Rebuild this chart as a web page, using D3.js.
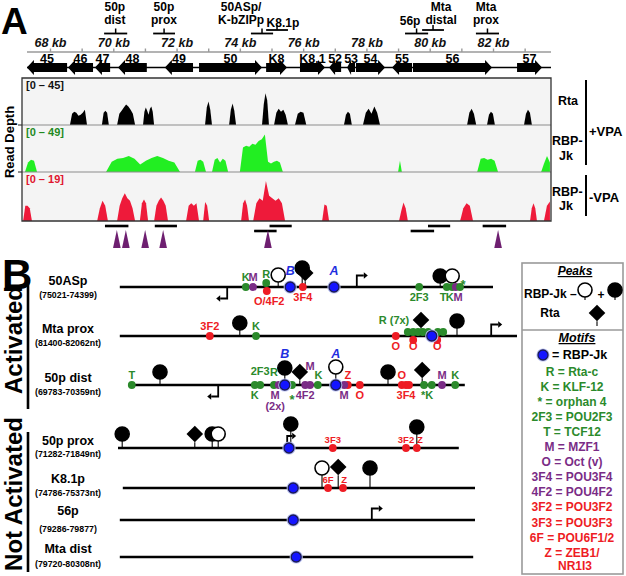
<!DOCTYPE html>
<html><head><meta charset="utf-8">
<script src="https://cdn.jsdelivr.net/npm/d3@7"></script>
<style>
body{margin:0;background:#fff}
svg{display:block;font-family:"Liberation Sans",Arial,Helvetica,sans-serif;font-weight:bold}
</style>
</head><body>
<svg id="c" width="626" height="576"></svg>
<script>
// ================= DATA =================
// Panel A: genome axis (kb)
const axisTicksKb = d3.range(68, 84);
// genes: [name, startKb, endKb, direction]
const genes = [
  ["45",67.27,68.54,-1],["46",68.57,69.36,-1],["47",69.42,69.90,-1],["48",70.15,71.06,-1],
  ["49",71.63,72.52,-1],["50",72.71,74.70,1],["K8",74.83,75.49,1],["K8.1",75.90,76.69,1],
  ["52",76.82,77.20,-1],["53",77.39,77.64,-1],["54",77.67,78.59,1],["55",78.81,79.44,-1],
  ["56",79.47,81.97,1],["57",82.76,83.55,1]
];
// promoter regions (kb) with label lines, label centre kb and bracket tier
const promoterRegions = [
  {lines:["50p","dist"], s:69.71, e:70.44, at:70.05, tier:0},
  {lines:["50p","prox"], s:71.26, e:71.95, at:71.60, tier:0},
  {lines:["50ASp/","K-bZIPp"], s:74.35, e:75.05, at:74.04, tier:0},
  {lines:["K8.1p"], s:74.83, e:75.52, at:75.36, tier:1},
  {lines:["56p"], s:79.22, e:79.95, at:79.38, tier:0},
  {lines:["Mta","distal"], s:79.76, e:80.45, at:80.36, tier:1},
  {lines:["Mta","prox"], s:81.46, e:82.19, at:81.78, tier:0}
];
// tiers of the bars drawn below the tracks (0 upper, 1 lower)
const barTiers = [0,0,1,0,1,0,0];
// purple RBP-Jk peak triangles (kb)
const triangleKb = [70.08,70.36,70.96,71.52,74.78,81.94];

// coverage tracks: peaks as [startKb, endKb, [depth samples]]
const trackNames = ["Rta +VPA","RBP-Jk +VPA","RBP-Jk -VPA"];
const trackMax = [45,49,19];
const rtaPlusVPA = [
  [68.63,69.17,[0,11,13,12,9,10,12,15,0]],
  [69.64,69.86,[0,12,14,12,0]],
  [70.12,70.69,[0,11,14,17,20,18,15,11,0]],
  [70.94,71.29,[0,13,17,14,10,16,18,13,0]],
  [72.90,73.12,[0,17,23,15,0]],
  [73.66,73.88,[0,15,21,14,0]],
  [74.70,74.92,[0,20,31,24,0]],
  [75.08,75.52,[0,12,16,13,15,10,0]],
  [75.74,76.10,[0,11,13,12,0]],
  [77.29,77.54,[0,10,13,11,0]],
  [77.89,78.43,[0,12,16,11,18,12,0]],
  [81.18,81.47,[0,12,16,11,0]],
  [81.81,82.06,[0,10,13,11,0]],
  [82.98,83.23,[0,11,15,12,0]]
];
const rbpPlusVPA = [
  [67.21,67.59,[0,10,13,12,0]],
  [69.77,72.11,[0,11,14,15,17,14,8,12,15,17,15,12,10,0]],
  [72.58,72.93,[0,12,13,11,0]],
  [73.12,73.63,[0,13,15,10,14,12,0]],
  [74.00,74.89,[0,26,28,27,30,29,33,35,40,11]],
  [74.89,75.36,[11,9,11,12,10,0]],
  [79.00,79.12,[0,6,12,6,0]],
  [81.50,82.16,[0,14,15,13,14,12,0]],
  [83.52,83.80,[0,9,17,10]]
];
const rbpMinusVPA = [
  [67.15,67.43,[0,6,6,5,0]],
  [69.49,69.83,[0,5,8,6,0]],
  [70.12,70.69,[0,6,9,11,9,8,5,0]],
  [70.84,71.10,[0,7,8.5,7,0]],
  [71.29,71.73,[0,6,8,9.3,8,6,0]],
  [72.30,72.71,[0,6,7,6,7,0]],
  [72.84,73.03,[0,7.5,6,0]],
  [74.04,74.29,[0,7,8.5,6,0]],
  [74.42,75.43,[0,7,9,8,15.8,10,9,8,9,7,0]],
  [76.60,76.82,[0,6.5,6,0]],
  [79.03,79.31,[0,4,7.3,5,0]],
  [80.96,81.37,[0,5,7,6,0]],
  [83.17,83.39,[0,5,7,5,0]],
  [83.61,83.80,[0,6,7.7]]
];

// Panel B: promoter rows (positions in bp along a common aligned axis)
const rows = [
  {name:"50ASp", sub:"(75021-74399)", span:[3,625], group:0},
  {name:"Mta prox", sub:"(81400-82062nt)", span:[3,665], group:0},
  {name:"50p dist", sub:"(69783-70359nt)", span:[17,578], group:0},
  {name:"50p prox", sub:"(71282-71849nt)", span:[0,568], group:1},
  {name:"K8.1p", sub:"(74786-75373nt)", span:[8,595], group:1},
  {name:"56p", sub:"(79286-79877)", span:[3,595], group:1},
  {name:"Mta dist", sub:"(79720-80308nt)", span:[3,592], group:1}
];
const groups = ["Activated","Not Activated"];
// transcription start sites: [row, bp, direction]
const tss = [[0,182,-1],[0,398,1],[1,622,1],[2,167,-1],[3,282,1],[5,423,1]];
// RBP-Jk motif sites: [row, bp]
const rbpSites = [[0,287],[0,360],[1,523],[2,278],[2,363],[3,285],[4,292],[5,292],[6,297]];
// ChIP peaks: [row, bp, kind, stem]
const peaks = [
  [0,312,"rta",14],[0,307,"plus",19],[0,267,"minus",12],[0,537,"plus",11],[0,557,"minus",11],
  [1,203,"plus",13],[1,505,"rta",16],[1,565,"plus",15],
  [2,70,"plus",13],[2,278,"plus",17],[2,303,"rta",13],[2,363,"minus",18],[2,450,"plus",13],[2,507,"rta",15],
  [3,7,"plus",14],[3,128,"rta",14],[3,157,"plus",14],[3,167,"minus",14],[3,288,"plus",24],[3,498,"plus",21],
  [4,340,"minus",20],[4,367,"rta",21],[4,420,"plus",20]
];
// motif dots: [row, bp, colour, lane]
const motifs = [
  [0,213,"g",0],[0,225,"p",0],[0,248,"r",1],[0,247,"g",-1],[0,308,"r",0],[0,502,"g",0],
  [0,548,"g",0],[0,557,"g",0],[0,563,"p",0],[0,570,"g",0],
  [1,153,"r",0],[1,230,"g",0],[1,463,"r",0],[1,492,"r",1],[1,532,"r",1],
  [1,483,"g",-1],[1,492,"g",-1],[1,500,"g",-1],[1,508,"g",-1],[1,517,"g",-1],[1,533,"g",-1],[1,542,"g",-1],
  [2,23,"g",0],[2,228,"g",0],[2,237,"g",0],[2,260,"g",0],[2,268,"p",0],[2,290,"g",0],[2,312,"p",0],[2,320,"p",0],
  [2,333,"g",0],[2,377,"p",0],[2,383,"r",0],[2,403,"r",0],[2,473,"r",0],[2,480,"r",0],[2,485,"r",0],
  [2,510,"g",0],[2,523,"g",0],[2,540,"p",0],[2,562,"g",0],
  [3,358,"r",0],[3,480,"r",0],[3,498,"r",0],
  [4,350,"r",0],[4,375,"r",0]
];
// motif labels: [row, bp, text, colour, tier]
const motifLabels = [
  [0,213,"K","g","a"],[0,225,"M","p","a"],[0,247,"R","g","a2"],[0,287,"B","b","hi"],[0,360,"A","b","hi"],
  [0,252,"O/4F2","r","b2"],[0,308,"3F4","r","b"],[0,502,"2F3","g","b"],
  [0,542,"T","g","b"],[0,553,"K","g","b"],[0,567,"M","p","b"],[0,575,"*","g","star"],
  [1,153,"3F2","r","a"],[1,230,"K","g","a"],[1,460,"R (7x)","g","hi"],
  [1,463,"O","r","b"],[1,492,"O","r","b"],[1,532,"O","r","b"],
  [2,23,"T","g","a"],[2,237,"2F3","g","a3"],[2,260,"R","g","a2"],[2,278,"B","b","top"],[2,320,"M","p","mid"],
  [2,334,"K","g","a"],[2,363,"A","b","top"],[2,383,"Z","r","a"],[2,473,"O","r","a"],[2,540,"M","p","a"],[2,562,"K","g","a"],
  [2,228,"K","g","b"],[2,262,"M","p","b"],[2,262,"(2x)","p","b3"],[2,290,"*","g","starb"],[2,312,"4F2","p","b"],
  [2,377,"M","p","b"],[2,403,"O","r","b"],[2,480,"3F4","r","b"],[2,515,"*K","g","b"],
  [3,358,"3F3","r","s"],[3,480,"3F2","r","s"],[3,503,"Z","r","s"],
  [4,350,"6F","r","s"],[4,377,"Z","r","s"]
];
// legend motif entries: [code, name, colour]
const legendMotifs = [
  ["R","Rta-c","g"],["K","KLF-12","g"],["*","orphan 4","g"],["2F3","POU2F3","g"],["T","TCF12","g"],
  ["M","MZF1","p"],["O","Oct (v)","p"],["3F4","POU3F4","p"],["4F2","POU4F2","p"],
  ["3F2","POU3F2","r"],["3F3","POU3F3","r"],["6F","POU6F1/2","r"],["Z","ZEB1/|NR1I3","r"]
];

// ================= DRAW =================
const COL = {g:"#2b8a2b", p:"#7a2c86", r:"#ee1c24", b:"#1f2fe0", k:"#000"};
const svg = d3.select("#c");
const txt = (g, x, y, s, o={}) => {
  const t = g.append("text").attr("x",x).attr("y",y).text(s)
    .attr("font-size",o.fs||12).attr("fill",o.fill||"#000").attr("text-anchor",o.anchor||"middle");
  if (o.italic) t.attr("font-style","italic");
  if (o.rot) t.attr("transform",`rotate(-90,${x},${y})`);
  if (o.ul) t.attr("text-decoration","underline");
  return t;
};

// ---------- Panel A ----------
const x = d3.scaleLinear().domain([68,82]).range([50,493]);
const xBar = d3.scaleLinear().domain([68,82]).range([50,500]);
const A = svg.append("g");
txt(A, 1, 34, "A", {fs:37, anchor:"start"});

// axis
A.append("line").attr("x1",27).attr("x2",551).attr("y1",52).attr("y2",52).attr("stroke","#9a9a9a").attr("stroke-width",1.6);
const ax = A.append("g").attr("transform","translate(0,52)")
  .call(d3.axisTop(x).tickValues(axisTicksKb).tickSize(3.5).tickPadding(1.5)
    .tickFormat(d => d % 2 === 0 ? d + " kb" : ""));
ax.select(".domain").remove();
ax.selectAll(".tick line").attr("stroke","#9a9a9a").attr("stroke-width",1.4);
ax.selectAll(".tick text").attr("font-size",12.5).attr("font-style","italic").attr("font-weight","bold")
  .attr("fill","#111").attr("font-family","Liberation Sans, Arial, sans-serif");

// promoter region brackets above the axis
const tierY = [33.5, 30];
promoterRegions.forEach(p => {
  const y = tierY[p.tier], x0 = x(p.s), x1 = x(p.e), xm = (x0+x1)/2;
  A.append("line").attr("x1",x0).attr("x2",x1).attr("y1",y).attr("y2",y).attr("stroke","#000").attr("stroke-width",1.8);
  A.append("line").attr("x1",xm).attr("x2",xm).attr("y1",y-5).attr("y2",y).attr("stroke","#000").attr("stroke-width",1.5);
  if (p.lines.length === 2) {
    txt(A, x(p.at), 11, p.lines[0], {fs:12});
    txt(A, x(p.at), 23.5, p.lines[1], {fs:12});
  } else {
    txt(A, x(p.at), p.tier ? 27 : 25, p.lines[0], {fs:12});
  }
});

// genes
const gy = 67.5;
A.append("line").attr("x1",27).attr("x2",551).attr("y1",gy).attr("y2",gy).attr("stroke","#000").attr("stroke-width",1.6);
genes.forEach(([n,s,e,dir]) => {
  const a = x(s), b = x(e), hl = Math.min(7, (b-a)*0.5), bh = 4.5, hh = 7.5;
  let pts;
  if (dir > 0) pts = [[a,gy-bh],[b-hl,gy-bh],[b-hl,gy-hh],[b,gy],[b-hl,gy+hh],[b-hl,gy+bh],[a,gy+bh]];
  else pts = [[b,gy-bh],[a+hl,gy-bh],[a+hl,gy-hh],[a,gy],[a+hl,gy+hh],[a+hl,gy+bh],[b,gy+bh]];
  A.append("path").attr("d", d3.line()(pts) + "Z").attr("fill","#000");
  txt(A, (a+b)/2, 62.5, n, {fs:12.5});
});

// coverage tracks
const trackTop = [78,125,172], trackBot = [125,172,221];
const trackFill = ["#000000","#22ee22","#ee1a3a"];
const rangeCol = ["#111","#1f8a1f","#e0142f"];
const trackData = [rtaPlusVPA, rbpPlusVPA, rbpMinusVPA];
A.append("rect").attr("x",22).attr("y",78).attr("width",529).attr("height",143).attr("fill","#f4f4f4");
A.append("clipPath").attr("id","clipT").append("rect").attr("x",22).attr("y",78).attr("width",529).attr("height",143);
trackData.forEach((data, i) => {
  const y = d3.scaleLinear().domain([0,trackMax[i]]).range([trackBot[i], trackTop[i]+1]);
  const area = d3.area().x(d => x(d[0])).y0(trackBot[i]).y1(d => y(d[1]));
  const g = A.append("g").attr("clip-path","url(#clipT)");
  data.forEach(([s,e,vals]) => {
    const pts = vals.map((v,j) => [s + (e-s)*j/(vals.length-1), v]);
    g.append("path").attr("d", area(pts)).attr("fill", trackFill[i]);
  });
  txt(A, 26, trackTop[i]+11, `[0 \u2013 ${trackMax[i]}]`, {fs:11, anchor:"start", fill:rangeCol[i]});
});
// borders
[125,172].forEach(yy => {
  A.append("line").attr("x1",22).attr("x2",551).attr("y1",yy).attr("y2",yy).attr("stroke","#8c8c8c").attr("stroke-width",1.2);
  A.append("line").attr("x1",18).attr("x2",22).attr("y1",yy).attr("y2",yy).attr("stroke","#444").attr("stroke-width",1.2);
});
A.append("path").attr("d","M22,78H551V221H22Z").attr("fill","none").attr("stroke","#333").attr("stroke-width",1.3);
txt(A, 14, 142, "Read Depth", {fs:13, rot:true});

// right labels
txt(A, 568, 105, "Rta", {fs:12.5});
txt(A, 552, 145, "RBP-", {fs:12.5, anchor:"start"});
txt(A, 566, 160, "Jk", {fs:12.5});
txt(A, 552, 196, "RBP-", {fs:12.5, anchor:"start"});
txt(A, 566, 210, "Jk", {fs:12.5});
A.append("line").attr("x1",586).attr("x2",586).attr("y1",80).attr("y2",165).attr("stroke","#000").attr("stroke-width",2);
A.append("line").attr("x1",586).attr("x2",586).attr("y1",175).attr("y2",216).attr("stroke","#000").attr("stroke-width",2);
txt(A, 589, 136, "+VPA", {fs:13, anchor:"start"});
txt(A, 589, 202, "-VPA", {fs:13, anchor:"start"});

// bars and triangles under tracks
const barY = [226, 231];
promoterRegions.forEach((p,i) => {
  A.append("line").attr("x1",xBar(p.s)).attr("x2",xBar(p.e)).attr("y1",barY[barTiers[i]]).attr("y2",barY[barTiers[i]])
    .attr("stroke","#000").attr("stroke-width",2.6);
});
triangleKb.forEach(k => {
  const cx = xBar(k);
  A.append("path").attr("d",`M${cx},230L${cx+3.8},248L${cx-3.8},248Z`).attr("fill","#6e1f70");
});

// ---------- Panel B ----------
const B = svg.append("g");
txt(B, 2, 289, "B", {fs:42, anchor:"start"});
const bx = d3.scaleLinear().domain([0,670]).range([118,520]);
const rowY = [287,336,385,448,488,520,557];
const subY = [298,346,395,457,496,532,567];
const nameY = [285,333,382,445,483,515,553];

// group labels
txt(B, 22, 340, groups[0], {fs:24, rot:true});
txt(B, 22, 494, groups[1], {fs:24, rot:true});
B.append("line").attr("x1",28).attr("x2",28).attr("y1",278).attr("y2",409).attr("stroke","#000").attr("stroke-width",2.6);
B.append("line").attr("x1",28).attr("x2",28).attr("y1",432).attr("y2",572).attr("stroke","#000").attr("stroke-width",2.6);

rows.forEach((r,i) => {
  txt(B, 68, nameY[i], r.name, {fs:12.5});
  txt(B, 68, subY[i], r.sub, {fs:8.8});
  B.append("line").attr("x1",bx(r.span[0])).attr("x2",bx(r.span[1])).attr("y1",rowY[i]).attr("y2",rowY[i])
    .attr("stroke","#000").attr("stroke-width",2.4);
});

// TSS arrows
tss.forEach(([ri,p,dir]) => {
  const x0 = bx(p), y0 = rowY[ri];
  const h = ri === 3 ? 12 : 11.5, w = ri === 3 ? 5 : 7;
  const yy = dir > 0 ? y0 - h : y0 + h;
  const x1 = x0 + dir*w;
  B.append("path").attr("d",`M${x0},${y0}V${yy}H${x1}`).attr("fill","none").attr("stroke","#000").attr("stroke-width",1.8);
  B.append("path").attr("d",`M${x1+dir*4},${yy}L${x1},${yy-3.2}L${x1},${yy+3.2}Z`).attr("fill","#000");
});

// peaks (stems + glyphs)
const drawPeak = (g, cx, baseY, kind, stem) => {
  const cy = baseY - stem;
  const r = 7, h = 8.3;
  const bottom = kind === "rta" ? cy + h : cy + r;
  g.append("line").attr("x1",cx).attr("x2",cx).attr("y1",bottom).attr("y2",baseY).attr("stroke","#000").attr("stroke-width",1.1);
  if (kind === "rta") g.append("path").attr("d",`M${cx},${cy-h}L${cx+h},${cy}L${cx},${cy+h}L${cx-h},${cy}Z`).attr("fill","#000");
  else g.append("circle").attr("cx",cx).attr("cy",cy).attr("r",r)
    .attr("fill", kind === "plus" ? "#000" : "#fff").attr("stroke","#000").attr("stroke-width",1.6);
};
peaks.forEach(([ri,p,kind,stem]) => drawPeak(B, bx(p), rowY[ri], kind, stem));

// motif dots
motifs.filter(m => m[2] === "r").concat(motifs.filter(m => m[2] !== "r")).forEach(([ri,p,c,lane]) => {
  B.append("circle").attr("cx",bx(p)).attr("cy",rowY[ri] + lane*4).attr("r",3.9).attr("fill",COL[c]);
});
// RBP-Jk sites
const drawRbp = (g, cx, cy) => {
  g.append("circle").attr("cx",cx).attr("cy",cy).attr("r",6.6).attr("fill","#b8bff0");
  g.append("circle").attr("cx",cx).attr("cy",cy).attr("r",5).attr("fill","#1414ff").attr("stroke","#1a1a55").attr("stroke-width",1.3);
};
rbpSites.forEach(([ri,p]) => drawRbp(B, bx(p), rowY[ri]));

// motif labels
const tierDy = {a:-6.5, a2:-9.5, a3:-10.5, hi:-12, mid:-15.5, top:-27, b:14, b2:18, b3:24.5, star:2, starb:19, s:-5};
motifLabels.forEach(([ri,p,t,c,tier]) => {
  const o = {fs: tier === "s" ? 9.5 : 11, fill: COL[c]};
  if (c === "b") { o.italic = true; o.fs = 12.5; }
  if (t.indexOf("*") >= 0 && t.length === 1) o.fs = 13;
  txt(B, bx(p), rowY[ri] + tierDy[tier], t, o);
});

// ---------- Legend ----------
const L = svg.append("g");
L.append("rect").attr("x",522).attr("y",263).attr("width",101).attr("height",311).attr("fill","#fff")
  .attr("stroke","#9a9a9a").attr("stroke-width",1.6);
L.append("line").attr("x1",522).attr("x2",623).attr("y1",330).attr("y2",330).attr("stroke","#9a9a9a").attr("stroke-width",1.6);
txt(L, 575, 275, "Peaks", {fs:12, italic:true, ul:true});
txt(L, 524, 298, "RBP-Jk \u2013", {fs:12, anchor:"start"});
drawPeak(L, 585, 300, "minus", 10);
txt(L, 601, 299, "+", {fs:12});
drawPeak(L, 615, 300, "plus", 10);
txt(L, 550, 317, "Rta", {fs:12});
drawPeak(L, 597, 326, "rta", 13);
txt(L, 577, 342, "Motifs", {fs:12.5, italic:true, ul:true});
drawRbp(L, 543, 355);
txt(L, 552, 359, "= RBP-Jk", {fs:12.5, anchor:"start"});
legendMotifs.forEach(([code,name,c],i) => {
  const parts = name.split("|");
  txt(L, 572, 376 + i*15.05, `${code} = ${parts[0]}`, {fs:12, fill:COL[c]});
  if (parts[1]) txt(L, 575, 376 + (i+1)*15.05 - 1.5, parts[1], {fs:12, fill:COL[c]});
});
</script>
</body></html>
